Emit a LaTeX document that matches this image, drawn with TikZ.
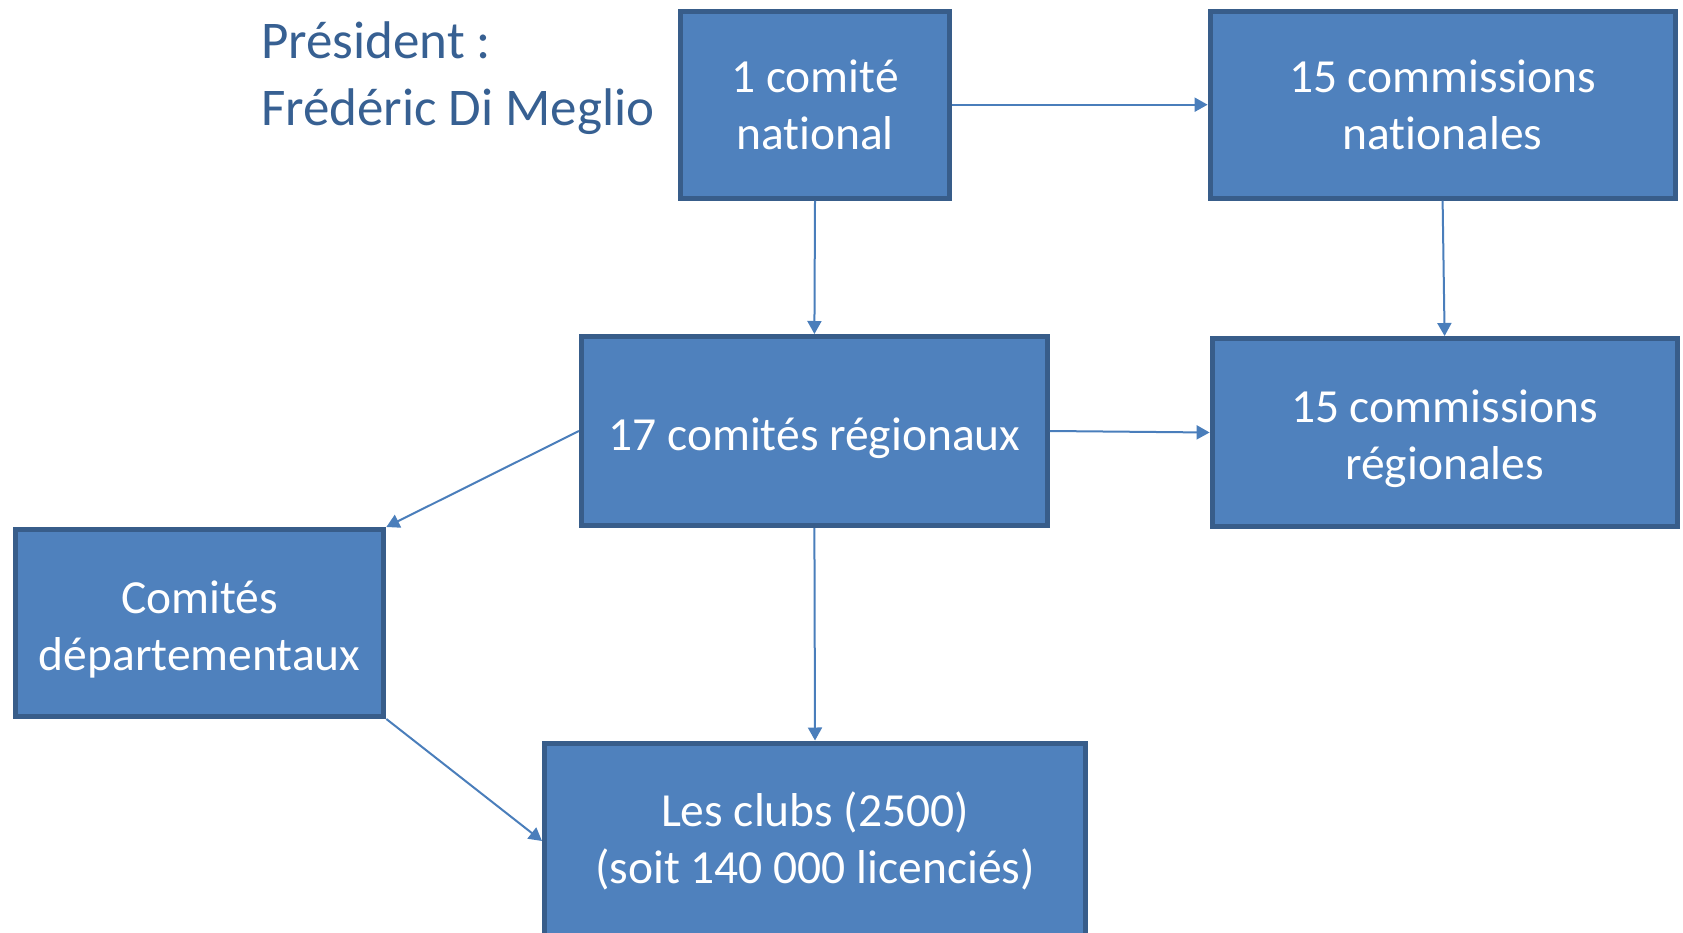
\documentclass[tikz,border=0pt]{standalone}
\usepackage{fontspec}
\setmainfont{Carlito}[Ligatures=NoCommon]
\usetikzlibrary{arrows.meta}
\definecolor{boxfill}{HTML}{4F81BD}
\definecolor{boxline}{HTML}{385D8A}
\definecolor{arrowcol}{HTML}{4A7EBB}
\definecolor{prescol}{RGB}{55,96,146}
\tikzset{
  orgbox/.style={draw=boxline, fill=boxfill, line width=5pt, inner sep=0pt,
    text=white, align=center, font=\fontsize{47.5}{57}\selectfont},
  link/.style={draw=arrowcol, line width=2pt, -{Triangle[length=13pt,width=14pt]}},
  prestext/.style={anchor=base west, inner sep=0pt, text=prescol,
    font=\fontsize{53}{66}\selectfont}
}
\begin{document}
\begin{tikzpicture}[x=1pt,y=-1pt]
\useasboundingbox (0,0) rectangle (1683,933);
\clip (0,0) rectangle (1683,933);
\node[prestext] (pres1) at (261,59) {Président :};
\node[prestext] (pres2) at (261,126) {Frédéric Di Meglio};
\node[orgbox, minimum width=269pt, minimum height=187pt] (nat) at (815,104.7) {1 comité\\national};
\node[orgbox, minimum width=465pt, minimum height=187pt] (cnat) at (1442.6,104.7) {15 commissions\\nationales};
\node[orgbox, minimum width=466pt, minimum height=189pt] (reg) at (814.4,431) {\rule{0pt}{48pt}17 comités régionaux};
\node[orgbox, minimum width=465pt, minimum height=188pt] (creg) at (1444.6,432.5) {\rule{0pt}{45pt}15 commissions\\régionales};
\node[orgbox, minimum width=368.5pt, minimum height=187pt] (dep) at (199.6,623) {\rule{0pt}{45pt}Comités\\départementaux};
\node[orgbox, minimum width=541pt, minimum height=196pt] (clubs) at (815,841) {Les clubs (2500)\\(soit 140 000 licenciés)};
\draw[link] (nat.east) -- (cnat.west);
\draw[link] (nat.south) -- (reg.north);
\draw[link] (cnat.south) -- (creg.north);
\draw[link] (reg.east) -- (creg.west);
\draw[link] (reg.west) -- (dep.north east);
\draw[link] (reg.south) -- (clubs.north);
\draw[link] (dep.south east) -- (clubs.west);
\end{tikzpicture}
\end{document}
